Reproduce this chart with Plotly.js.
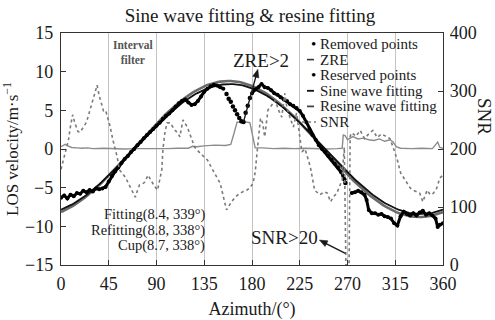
<!DOCTYPE html>
<html>
<head>
<meta charset="utf-8">
<script src="https://cdn.plot.ly/plotly-3.0.1.min.js"></script>
<style>
  html, body { margin: 0; padding: 0; background: #fff; }
  #chart { width: 495px; height: 320px; }
</style>
</head>
<body>
<div id="chart"></div>
<script>
// ---- Observed LOS velocity (m/s) by azimuth (deg) ----
// kept points; null marks a gap where points were removed
const reservedAz = [0,3,6,9,12,15,18,21,24,27,30,33,36,39,42,45,48,51,54,57,60,63,66,69,72,75,78,81,84,87,90,93,96,99,102,105,108,111,114,117,120,123,126,129,132,135,138,141,144,147,150,153,
  167,
  180,183,186,189,192,195,198,201,204,207,210,213,216,219,222,225,228,231,234,237,240,243,246,249,252,255,258,261,264,266,
  270,
  274,277,280,283,286,288,290,293,296,299,302,305,308,311,314,317,320,323,326,329,332,335,338,341,344,347,350,353,355,357,360];
const reservedV = [-6.3,-6.0,-6.4,-5.9,-6.1,-5.7,-5.8,-5.4,-5.6,-5.3,-5.5,-5.1,-5.2,-5.1,-4.9,-4.2,-3.5,-2.9,-2.4,-1.8,-1.3,-0.9,-0.4,0.0,0.5,0.9,1.4,1.8,2.2,2.6,3.0,3.4,3.9,4.3,4.6,5.0,5.5,5.9,6.2,6.4,6.0,5.7,5.8,6.2,6.8,7.4,7.8,8.1,8.3,8.2,8.0,7.8,
  null,
  7.2,7.7,8.0,8.4,8.0,7.9,7.6,7.2,7.0,6.7,6.4,6.2,5.8,5.6,5.3,4.9,4.3,3.5,2.6,1.8,1.2,0.5,0.0,-0.4,-0.9,-1.4,-1.9,-2.4,-3.0,-3.5,
  null,
  -5.7,-5.6,-5.4,-5.6,-5.9,-6.6,-7.9,-8.3,-8.3,-8.5,-8.4,-8.7,-8.8,-9.0,-9.6,-9.9,-8.7,-8.1,-8.4,-8.6,-8.3,-8.6,-8.2,-8.0,-8.5,-8.3,-8.6,-9.0,-10.1,-9.8,-9.6];

// points rejected by the ZRE>2 and SNR>20 checks
const removedAz = [156,158,160,162,164,166,168,170,172,174,176,178,267,268];
const removedV  = [7.1,6.5,6.1,5.5,5.0,4.5,4.0,3.6,3.5,4.7,5.6,6.6,-3.9,-4.4];

// ---- ZRE (left axis) ----
const zreAz = [0,2,4,6,8,10,15,20,25,30,40,50,60,70,80,90,100,110,120,124,128,135,145,155,160,163,166,170,174,178,181,183,190,200,210,220,230,240,250,260,265,266,268,270,272,275,280,285,290,295,300,305,310,313,316,320,330,340,350,353,355,357,360];
const zreV  = [0.3,0.5,0.6,0.45,0.3,0.2,0.15,0.1,0.15,0.05,0.1,0.05,0.0,0.05,0.05,0.0,0.05,0.1,0.1,0.35,0.3,0.4,0.5,0.45,0.6,2.0,3.5,3.4,3.5,3.4,1.2,0.15,0.15,0.05,0.1,0.05,0.1,0.05,0.0,0.05,0.1,1.8,1.7,1.2,1.4,1.6,1.3,1.4,1.2,1.1,1.3,1.0,1.2,0.9,0.3,0.1,0.05,0.1,0.05,0.6,0.9,0.2,0.1];

// ---- SNR (right axis) ----
const snrAz = [0,2,5,7,9,11,13,16,18,21,24,27,30,32,34,36,38,40,42,44,46,49,51,53,55,58,61,64,67,70,72,74,77,79,82,85,88,91,93,95,96,98,100,103,107,110,112,115,119,123,126,131,138,143,147,150,153,156,159,162,166,169,172,175,178,181,183,185,188,190,192,195,198,202,205,208,211,213,216,219,222,225,227,230,235,239,244,248,251,254,257,260,263,265,266,267,268.5,271.5,272.5,274,278,282,286,290,294,298,302,306,310,313,317,320,323,326,329,332,335,338,341,343,345,348,351,354,357,360];
const snrV  = [165,180,205,215,240,259,245,230,229,238,246,265,285,298,310,292,280,266,267,255,241,215,200,186,164,158,150,138,126,117,128,138,140,143,155,145,136,129,145,164,198,230,245,245,233,228,221,250,238,216,203,193,181,164,150,141,118,95,104,112,120,124,127,129,133,141,160,198,253,245,221,267,275,284,267,255,296,270,253,238,262,225,195,200,169,129,121,126,124,109,118,124,138,147,181,203,0,0,222,228,222,232,218,226,232,220,226,222,218,203,181,159,150,141,133,129,127,124,109,120,129,121,124,132,150,155];

// ---- Sine fits: v = -A * cos(az - phase) ----
const fitNames = ['Fitting', 'Refitting', 'Cup'];
const fitAmp   = [8.4, 8.8, 8.7];
const fitPhase = [339, 338, 338];

// ---- Axis ticks ----
const azTicks  = [0, 45, 90, 135, 180, 225, 270, 315, 360];
const losTicks = [-15, -10, -5, 0, 5, 10, 15];
const snrTicks = [0, 100, 200, 300, 400];

const legendLabels = ['Removed points', 'ZRE', 'Reserved points', 'Sine wave fitting', 'Resine wave fitting', 'SNR'];

function fitCurve(i) {
  const xs = [], ys = [];
  for (let a = 0; a <= 360; a += 2) {
    xs.push(a);
    ys.push(-fitAmp[i] * Math.cos((a - fitPhase[i]) * Math.PI / 180));
  }
  return { xs, ys };
}
const sineFit = fitCurve(0);
const resineFit = fitCurve(1);

const SERIF = 'Liberation Serif, Times New Roman, serif';
const INK = '#1a1a1a';

const azRange = [0, 360], losRange = [-15, 15], snrRange = [0, 400];

const traces = [
  { x: zreAz, y: zreV, type: 'scatter', mode: 'lines', name: 'ZRE',
    line: { color: '#8c8c8c', width: 1.4 }, hoverinfo: 'skip' },
  { x: resineFit.xs, y: resineFit.ys, type: 'scatter', mode: 'lines', name: 'Resine wave fitting',
    line: { color: '#6a6a6a', width: 2.6 } },
  { x: sineFit.xs, y: sineFit.ys, type: 'scatter', mode: 'lines', name: 'Sine wave fitting',
    line: { color: '#111', width: 1.8 } },
  { x: reservedAz, y: reservedV, type: 'scatter', mode: 'lines+markers', name: 'Reserved points',
    line: { color: '#000', width: 3 }, marker: { color: '#000', size: 4 }, connectgaps: false },
  { x: removedAz, y: removedV, type: 'scatter', mode: 'markers', name: 'Removed points',
    marker: { color: '#000', size: 4.5, symbol: 'circle' } },
  { x: snrAz, y: snrV, type: 'scatter', mode: 'lines', name: 'SNR', yaxis: 'y2',
    line: { color: '#7a7a7a', width: 1.6, dash: 'dot' } }
];

// plot-area frame in page pixels
const plotL = 61, plotR = 443, plotT = 33, plotB = 265;
const fx = px => (px - plotL) / (plotR - plotL);
const fy = py => (plotB - py) / (plotB - plotT);
// data -> page pixels (same ranges as the axes below)
const xPx  = a => plotL + (a - azRange[0]) / (azRange[1] - azRange[0]) * (plotR - plotL);
const yPx  = v => plotB - (v - losRange[0]) / (losRange[1] - losRange[0]) * (plotB - plotT);
const y2Px = s => plotB - (s - snrRange[0]) / (snrRange[1] - snrRange[0]) * (plotB - plotT);

const annotations = [];
const shapes = [];

// straight arrow drawn as a line plus a filled head, in page pixels
function addArrow(tx, ty, hx, hy) {
  const dx = hx - tx, dy = hy - ty, len = Math.hypot(dx, dy);
  const ux = dx / len, uy = dy / len, headLen = 8, halfW = 3.2;
  const bx = hx - ux * headLen, by = hy - uy * headLen;
  shapes.push({ type: 'line', xref: 'paper', yref: 'paper', layer: 'above',
    x0: fx(tx), y0: fy(ty), x1: fx(bx + ux), y1: fy(by + uy), line: { color: '#1a1a1a', width: 1.4 } });
  const p = [[hx, hy], [bx - uy * halfW, by + ux * halfW], [bx + uy * halfW, by - ux * halfW]];
  shapes.push({ type: 'path', xref: 'paper', yref: 'paper', layer: 'above',
    path: 'M' + p.map(q => fx(q[0]) + ',' + fy(q[1])).join('L') + 'Z',
    fillcolor: '#1a1a1a', line: { color: '#1a1a1a', width: 0.5 } });
}

// legend
const rowY0 = 44, rowStep = 15.6;
legendLabels.forEach((lab, i) => {
  const py = rowY0 + i * rowStep;
  annotations.push({ xref: 'paper', yref: 'paper', x: fx(318), y: fy(py), xanchor: 'left', yanchor: 'middle',
    text: lab, showarrow: false, font: { family: SERIF, size: 15, color: INK } });
});
[0, 2].forEach(i => {
  annotations.push({ xref: 'paper', yref: 'paper', x: fx(313.5), y: fy(rowY0 + i * rowStep), xanchor: 'center', yanchor: 'middle',
    text: '•', showarrow: false, font: { family: SERIF, size: 15, color: '#000' } });
});
const legendLines = [
  { row: 1, color: '#333', width: 1.6, dash: 'solid', x0: 307, x1: 314 },
  { row: 3, color: '#111', width: 1.8, dash: 'solid', x0: 307, x1: 314 },
  { row: 4, color: '#444', width: 1.8, dash: 'solid', x0: 307, x1: 314 },
  { row: 5, color: '#7a7a7a', width: 1.6, dash: 'dot', x0: 302, x1: 316 }
];
legendLines.forEach(l => {
  const py = rowY0 + l.row * rowStep;
  shapes.push({ type: 'line', xref: 'paper', yref: 'paper', x0: fx(l.x0), x1: fx(l.x1), y0: fy(py), y1: fy(py),
    line: { color: l.color, width: l.width, dash: l.dash } });
});

// fit parameter notes
fitNames.forEach((n, i) => {
  annotations.push({ xref: 'x', yref: 'y', x: 137.6, y: -8.5 - i * 2.0, xanchor: 'right', yanchor: 'middle',
    text: n + '(' + fitAmp[i].toFixed(1) + ', ' + fitPhase[i] + '°)', showarrow: false,
    font: { family: SERIF, size: 14.5, color: INK } });
});

// interval filter note
annotations.push({ xref: 'x', yref: 'y', x: 68.3, y: 12.45, xanchor: 'center', yanchor: 'middle',
  text: '<b>Interval</b><br><b>filter</b>', showarrow: false,
  font: { family: SERIF, size: 11.5, color: '#555' } });

// ZRE>2 label, with an arrow from the dip of removed points up to it
annotations.push({ xref: 'x', yref: 'y', x: 188.5, y: 11.4, xanchor: 'center', yanchor: 'middle',
  text: 'ZRE>2', showarrow: false, font: { family: SERIF, size: 19, color: INK } });
addArrow(xPx(removedAz[8]), yPx(removedV[8]), xPx(185.5), yPx(10.3));

// SNR>20 label, with an arrow from the SNR=20 crossing up to it
annotations.push({ xref: 'x', yref: 'y', x: 211, y: -11.5, xanchor: 'center', yanchor: 'middle',
  text: 'SNR>20', showarrow: false, font: { family: SERIF, size: 19, color: INK } });
addArrow(xPx(268), y2Px(20), xPx(243.5), y2Px(43));

// right axis title, reading downward
annotations.push({ xref: 'paper', yref: 'paper', x: fx(484), y: fy(116), xanchor: 'center', yanchor: 'middle',
  text: 'SNR', textangle: 90, showarrow: false, font: { family: SERIF, size: 19, color: INK } });

const layout = {
  width: 495, height: 320,
  margin: { l: plotL, r: 495 - plotR, t: plotT, b: 320 - plotB, pad: 0 },
  paper_bgcolor: '#fff', plot_bgcolor: '#fff',
  showlegend: false,
  font: { family: SERIF, color: INK },
  title: { text: 'Sine wave fitting & resine fitting', font: { family: SERIF, size: 19, color: INK },
           x: 0.505, xanchor: 'center', y: 1 - 15.5 / 320, yanchor: 'middle', xref: 'container', yref: 'container' },
  xaxis: {
    range: azRange, tickvals: azTicks, ticktext: azTicks.map(String),
    ticks: 'inside', ticklen: 5, tickcolor: '#333', tickwidth: 1,
    showline: true, linecolor: '#333', linewidth: 1.2, mirror: true,
    showgrid: true, gridcolor: '#c4c4c4', gridwidth: 1, zeroline: false,
    tickfont: { family: SERIF, size: 18, color: INK }, ticklabelstandoff: 2,
    title: { text: 'Azimuth/(°)', font: { family: SERIF, size: 18, color: INK }, standoff: 9 }
  },
  yaxis: {
    range: losRange, tickvals: losTicks,
    ticks: 'inside', ticklen: 5, tickcolor: '#333', tickwidth: 1,
    showline: true, linecolor: '#333', linewidth: 1.2,
    showgrid: false, zeroline: false,
    tickfont: { family: SERIF, size: 18, color: INK }, ticklabelstandoff: 3,
    title: { text: 'LOS velocity/m·s<sup>−1</sup>', font: { family: SERIF, size: 17, color: INK }, standoff: 2 }
  },
  yaxis2: {
    range: snrRange, tickvals: snrTicks, overlaying: 'y', side: 'right',
    ticks: 'inside', ticklen: 5, tickcolor: '#333', tickwidth: 1,
    showline: true, linecolor: '#333', linewidth: 1.2,
    showgrid: false, zeroline: false,
    tickfont: { family: SERIF, size: 18, color: INK }, ticklabelstandoff: 2
  },
  annotations: annotations,
  shapes: shapes
};

Plotly.newPlot('chart', traces, layout, { displayModeBar: false, staticPlot: true });
</script>
</body>
</html>
